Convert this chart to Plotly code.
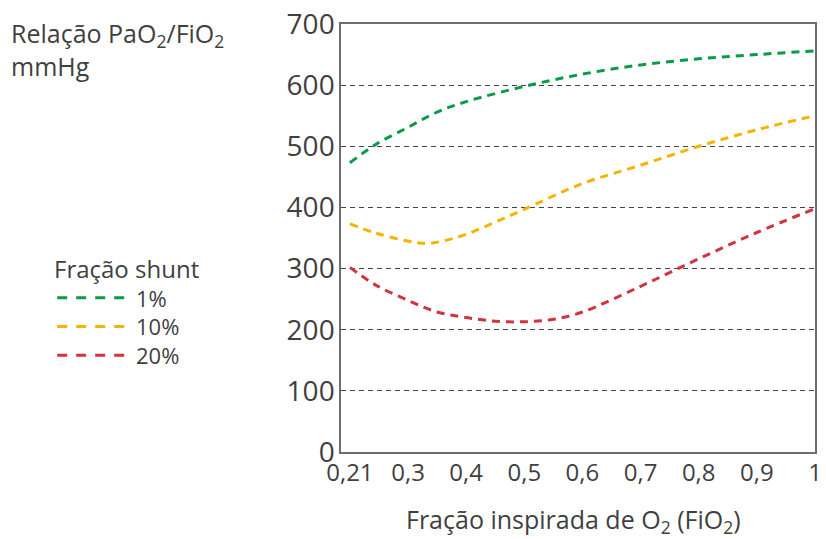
import plotly.graph_objects as go

# ---- data ----
tick_fio2 = [0.21, 0.3, 0.4, 0.5, 0.6, 0.7, 0.8, 0.9, 1.0]
tick_labels = ["0,21", "0,3", "0,4", "0,5", "0,6", "0,7", "0,8", "0,9", "1"]

green_fio2 = [0.21, 0.25, 0.3, 0.35, 0.4, 0.5, 0.6, 0.7, 0.8, 0.9, 1.0]
green_vals = [473, 503, 531, 556, 573, 598, 618, 633, 643, 650, 656]

yellow_fio2 = [0.21, 0.25, 0.3, 0.33, 0.36, 0.4, 0.45, 0.5, 0.6, 0.7, 0.8, 0.9, 1.0]
yellow_vals = [373, 358, 345, 341, 345, 356, 376, 397, 439, 469, 500, 527, 550]

red_fio2 = [0.21, 0.25, 0.3, 0.35, 0.4, 0.45, 0.5, 0.55, 0.6, 0.7, 0.8, 0.9, 1.0]
red_vals = [302, 273, 248, 229, 220, 214, 213, 217, 229, 271, 316, 359, 398]

series_names = ["1%", "10%", "20%"]
colors = ["#0a9a48", "#f5b400", "#d1333f"]
legend_title = "Fração shunt"

FONT = "Open Sans"
TXT = "#3f3f3f"

# plot area in pixels (figure 826 x 539)
L, R, T, B = 341, 822, 19, 452
W, H = R - L, B - T


def px_x(px):
    return (px - L) / W


def px_y(py):
    return (B - py) / H


def axis_pos(f):
    # the original x axis spaces its ticks evenly (0,21 -> 0,3 is one step)
    p = (f - 0.21) / 0.09 if f < 0.3 else (f - 0.2) * 10
    return round(p, 6)


fig = go.Figure()
for name, fx, vals, col in zip(series_names,
                               [green_fio2, yellow_fio2, red_fio2],
                               [green_vals, yellow_vals, red_vals], colors):
    fig.add_trace(go.Scatter(
        x=[axis_pos(f) for f in fx], y=vals, name=name, mode="lines",
        line=dict(color=col, width=3, dash="8px,6px", shape="spline", smoothing=1.0),
        hoverinfo="skip", showlegend=False, cliponaxis=False))

fig.update_layout(
    width=826, height=539,
    margin=dict(l=L, r=826 - R, t=T, b=539 - B),
    paper_bgcolor="white", plot_bgcolor="white",
    font=dict(family=FONT, color=TXT, size=20),
    showlegend=False,
)
fig.update_xaxes(
    range=[-0.153, 8.0], tickmode="array",
    tickvals=[axis_pos(f) for f in tick_fio2], ticktext=tick_labels,
    showgrid=False, zeroline=False, showline=True, mirror=True,
    linecolor="#6e6e6e", linewidth=1.5, ticks="",
    ticklabeloverflow="allow", ticklabelstandoff=-2,
    tickfont=dict(size=24, color=TXT, family=FONT),
)
fig.update_yaxes(
    range=[0, 700], dtick=100, tick0=0,
    showgrid=True, gridcolor="#454545", gridwidth=1, griddash="5px,4px",
    zeroline=False, showline=True, mirror=True,
    linecolor="#6e6e6e", linewidth=1.5, ticks="",
    ticklabeloverflow="allow", ticklabelstandoff=-1,
    tickfont=dict(size=28, color=TXT, family=FONT),
)

# axis titles
fig.add_annotation(
    xref="paper", yref="paper", x=px_x(577), y=px_y(521),
    xanchor="center", yanchor="middle", showarrow=False,
    text="Fração inspirada de O<sub>2</sub> (FiO<sub>2</sub>)",
    font=dict(size=25, color=TXT, family=FONT))
fig.add_annotation(
    xref="paper", yref="paper", x=px_x(4), y=px_y(9),
    xanchor="left", yanchor="top", align="left", showarrow=False,
    text="Relação PaO<sub>2</sub>/FiO<sub>2</sub><br>mmHg",
    font=dict(size=25, color=TXT, family=FONT))

# legend (drawn to match the long dashed swatches of the original)
fig.add_annotation(
    xref="paper", yref="paper", x=px_x(48), y=px_y(266),
    xanchor="left", yanchor="middle", showarrow=False,
    text=legend_title, font=dict(size=24, color=TXT, family=FONT))
for i, (name, col) in enumerate(zip(series_names, colors)):
    ly = 296 + i * 29
    fig.add_shape(type="line", xref="paper", yref="paper",
                  x0=px_x(53), x1=px_x(128), y0=px_y(ly), y1=px_y(ly),
                  line=dict(color=col, width=3, dash="10px,9px"))
    fig.add_annotation(
        xref="paper", yref="paper", x=px_x(131), y=px_y(ly),
        xanchor="left", yanchor="middle", showarrow=False,
        text=name, font=dict(size=22, color=TXT, family=FONT))

fig.write_html("out.html", config={"displayModeBar": False},
               post_script="document.body.style.margin='0';")
